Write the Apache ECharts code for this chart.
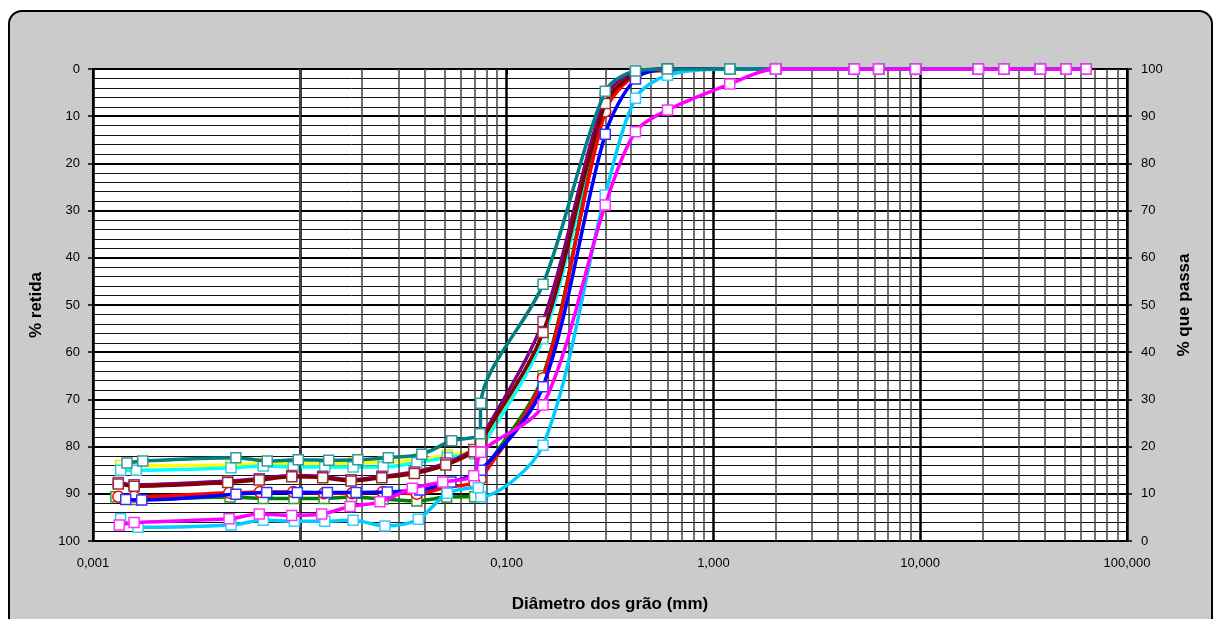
<!DOCTYPE html>
<html>
<head>
<meta charset="utf-8">
<script src="https://cdn.jsdelivr.net/npm/echarts/dist/echarts.min.js"></script>
<style>
  html, body { margin: 0; padding: 0; background: #fff; }
  #frame { position: absolute; left: 8px; top: 10px; width: 1201px; height: 660px;
           border: 2px solid #000; border-radius: 14px; background: #cbcbcb; }
  #chart { position: absolute; left: 0; top: 0; width: 1217px; height: 619px; }
</style>
</head>
<body>
<div id="frame"></div>
<div id="chart"></div>
<script>
// ---------- DATA ----------
// Sieve diameters (mm)
const sieveD = [63.5, 50.8, 38.1, 25.4, 19.1, 9.5, 6.3, 4.8, 2.0, 1.2, 0.6, 0.42, 0.3, 0.15, 0.075];
const xTickLabels = ['0,001', '0,010', '0,100', '1,000', '10,000', '100,000'];

// % retained at sieves
const tealSieve    = [0,0,0,0,0,0,0,0,0,0,0,0.4,4.7,45.6,70.8];
const yellowSieve  = [0,0,0,0,0,0,0,0,0,0,0,0.8,7.8,56.5,80.0];
const cyanSieve    = [0,0,0,0,0,0,0,0,0,0,0,0.8,8.7,57.1,80.5];
const purpleSieve  = [0,0,0,0,0,0,0,0,0,0,0,0.6,6.0,53.5,78.5];
const darkredSieve = [0,0,0,0,0,0,0,0,0,0,0,1.0,7.3,55.8,79.0];
const greenSieve   = [0,0,0,0,0,0,0,0,0,0,0,1.0,8.3,65.0,86.3];
const redSieve     = [0,0,0,0,0,0,0,0,0,0,0.3,1.3,9.0,65.5,86.9];
const blueSieve    = [0,0,0,0,0,0,0,0,0,0,0,2.1,13.8,67.3,85.0];
const skySieve     = [0,0,0,0,0,0,0,0,0,0,1.3,6.2,26.7,79.7,90.6];
const magentaSieve = [0,0,0,0,0,0,0,0,0,3.2,8.7,13.3,28.8,71.2,81.2];

// Sedimentation diameters (mm) and % retained
const tealSedD    = [0.0745, 0.0543, 0.0389, 0.0268, 0.0191, 0.0138, 0.00983, 0.00696, 0.00491, 0.00174, 0.00146];
const tealSedR    = [77.3, 78.75, 81.6, 82.35, 82.8, 82.9, 82.8, 83.05, 82.35, 83.05, 83.5];
const yellowSedD  = [0.0700, 0.0517, 0.0368, 0.0253, 0.0181, 0.0132, 0.0093, 0.00666, 0.00465, 0.00162, 0.00136];
const yellowSedR  = [81.0, 81.8, 82.8, 83.3, 83.5, 83.7, 83.7, 83.6, 83.9, 84.0, 84.0];
const cyanSedD    = [0.0700, 0.0517, 0.0368, 0.0253, 0.0181, 0.0132, 0.0093, 0.00666, 0.00465, 0.00162, 0.00136];
const cyanSedR    = [81.5, 82.3, 83.4, 84.3, 84.3, 84.3, 84.3, 84.1, 84.5, 85.0, 85.0];
const purpleSedD  = [0.0693, 0.0508, 0.0358, 0.0249, 0.0177, 0.0129, 0.00914, 0.00637, 0.00448, 0.00158, 0.001325];
const purpleSedR  = [80.6, 83.5, 85.4, 86.3, 87.0, 86.3, 86.1, 86.8, 87.3, 88.1, 87.6];
const darkredSedD = [0.0693, 0.0508, 0.0358, 0.0249, 0.0177, 0.0129, 0.00914, 0.00637, 0.00448, 0.00158, 0.001325];
const darkredSedR = [81.1, 83.9, 85.7, 86.6, 87.3, 86.6, 86.4, 87.1, 87.6, 88.4, 87.9];
const greenSedD   = [0.0700, 0.0513, 0.0368, 0.0253, 0.0178, 0.0131, 0.00938, 0.00666, 0.0046, 0.0016, 0.00129];
const greenSedR   = [90.6, 90.7, 91.5, 91.1, 90.7, 91.0, 91.0, 91.0, 90.7, 91.2, 90.6];
const redSedD     = [0.0700, 0.0513, 0.0368, 0.0252, 0.0179, 0.0131, 0.0093, 0.00642, 0.00456, 0.00158, 0.001325];
const redSedR     = [87.8, 88.6, 90.0, 89.6, 89.9, 89.9, 89.6, 89.6, 89.8, 90.6, 90.6];
const blueSedD    = [0.0538, 0.0381, 0.0265, 0.0187, 0.0136, 0.00973, 0.00692, 0.00491, 0.00172, 0.00144];
const blueSedR    = [87.5, 89.2, 89.6, 89.7, 89.7, 89.7, 89.7, 90.1, 91.3, 91.2];
const skySedD     = [0.0730, 0.0517, 0.0374, 0.0258, 0.0181, 0.0132, 0.00941, 0.00666, 0.00465, 0.00165, 0.00136];
const skySedR     = [88.7, 89.9, 95.4, 96.8, 95.6, 95.8, 95.8, 95.6, 96.6, 97.1, 95.3];
const magentaSedD = [0.0693, 0.0491, 0.0350, 0.0244, 0.0175, 0.01276, 0.00914, 0.00637, 0.00455, 0.00158, 0.00134];
const magentaSedR = [86.2, 87.5, 88.8, 91.7, 92.7, 94.3, 94.6, 94.3, 95.3, 96.1, 96.6];

// ---------- BUILD ----------
function pairs(sieveR, sedD, sedR) {
  const out = sieveD.map((d, i) => [d, sieveR[i]]);
  sedD.forEach((d, i) => out.push([d, sedR[i]]));
  return out;
}
const seriesDefs = [
  { name: 'yellow',  line: '#FFFF00', mark: '#E6E600', sym: 'rect',   data: pairs(yellowSieve, yellowSedD, yellowSedR) },
  { name: 'cyan',    line: '#00FFFF', mark: '#33CCCC', sym: 'rect',   data: pairs(cyanSieve, cyanSedD, cyanSedR) },
  { name: 'green',   line: '#008000', mark: '#339933', sym: 'rect',   data: pairs(greenSieve, greenSedD, greenSedR) },
  { name: 'red',     line: '#FF0000', mark: '#FF0000', sym: 'circle', data: pairs(redSieve, redSedD, redSedR) },
  { name: 'purple',  line: '#800080', mark: '#993399', sym: 'rect',   data: pairs(purpleSieve, purpleSedD, purpleSedR) },
  { name: 'darkred', line: '#800000', mark: '#993333', sym: 'rect',   data: pairs(darkredSieve, darkredSedD, darkredSedR) },
  { name: 'blue',    line: '#0000FF', mark: '#3333FF', sym: 'rect',   data: pairs(blueSieve, blueSedD, blueSedR) },
  { name: 'sky',     line: '#00CCFF', mark: '#33CCFF', sym: 'rect',   data: pairs(skySieve, skySedD, skySedR) },
  { name: 'teal',    line: '#008080', mark: '#339999', sym: 'rect',   data: pairs(tealSieve, tealSedD, tealSedR) },
  { name: 'magenta', line: '#FF00FF', mark: '#FF33FF', sym: 'rect',   data: pairs(magentaSieve, magentaSedD, magentaSedR) }
];

const minorX = [];
[0.001, 0.01, 0.1, 1, 10].forEach(dec => {
  for (let k = 2; k <= 9; k++) minorX.push(Number((k * dec).toPrecision(3)));
});

const FONT = "'Liberation Sans', Arial, sans-serif";
const series = [{
  type: 'line', data: [], z: 1, silent: true,
  markLine: {
    silent: true, symbol: ['none', 'none'], label: { show: false },
    animation: false,
    lineStyle: { color: '#444', width: 1.5, type: 'solid' },
    emphasis: { disabled: true },
    data: minorX.map(v => ({ xAxis: v }))
  }
}];
seriesDefs.forEach((s, i) => {
  series.push({
    type: 'line', name: s.name, data: s.data, z: 3 + i,
    smooth: 0.3, symbol: s.sym, symbolSize: s.sym === 'circle' ? 11 : 10,
    showAllSymbol: true,
    lineStyle: { color: s.line, width: 3.5 },
    itemStyle: { color: '#fff', borderColor: s.mark, borderWidth: 1.5 },
    emphasis: { disabled: true },
    animation: false
  });
});

const chart = echarts.init(document.getElementById('chart'));
chart.setOption({
  backgroundColor: 'transparent',
  animation: false,
  textStyle: { fontFamily: FONT },
  grid: { left: 93, right: 90, top: 69, bottom: 78, show: true, backgroundColor: '#fff', borderColor: '#000', borderWidth: 2 },
  xAxis: {
    type: 'log', logBase: 10, min: 0.001, max: 100,
    name: 'Diâmetro dos grão (mm)', nameLocation: 'middle', nameGap: 55,
    nameTextStyle: { fontWeight: 'bold', fontSize: 17, color: '#000', fontFamily: FONT },
    axisLine: { show: true, lineStyle: { color: '#000', width: 2 } },
    axisTick: { show: true, length: 5, lineStyle: { color: '#000', width: 2 } },
    axisLabel: { color: '#000', fontSize: 13, margin: 16, fontFamily: FONT,
      formatter: v => xTickLabels[Math.round(Math.log10(v)) + 3] },
    splitLine: { show: true, lineStyle: { color: '#000', width: 2.5 } }
  },
  yAxis: [{
    type: 'value', inverse: true, min: 0, max: 100, interval: 10, position: 'left',
    name: '% retida', nameLocation: 'middle', nameRotate: 90, nameGap: 48,
    nameTextStyle: { fontWeight: 'bold', fontSize: 17, color: '#000', fontFamily: FONT },
    axisLine: { show: true, lineStyle: { color: '#000', width: 2 } },
    axisTick: { show: true, length: 5, lineStyle: { color: '#000', width: 1.5 } },
    axisLabel: { color: '#000', fontSize: 13, margin: 13, fontFamily: FONT },
    splitLine: { show: true, lineStyle: { color: '#000', width: 2 } },
    minorTick: { show: false, splitNumber: 5 },
    minorSplitLine: { show: true, lineStyle: { color: '#111', width: 1 } }
  }, {
    type: 'value', min: 0, max: 100, interval: 10, position: 'right',
    name: '% que passa', nameLocation: 'middle', nameRotate: 90, nameGap: 49,
    nameTextStyle: { fontWeight: 'bold', fontSize: 17, color: '#000', fontFamily: FONT },
    axisLine: { show: true, lineStyle: { color: '#000', width: 2 } },
    axisTick: { show: true, length: 5, lineStyle: { color: '#000', width: 1.5 } },
    axisLabel: { color: '#000', fontSize: 13, margin: 14, fontFamily: FONT },
    splitLine: { show: false }
  }],
  series: series
});
</script>
</body>
</html>
